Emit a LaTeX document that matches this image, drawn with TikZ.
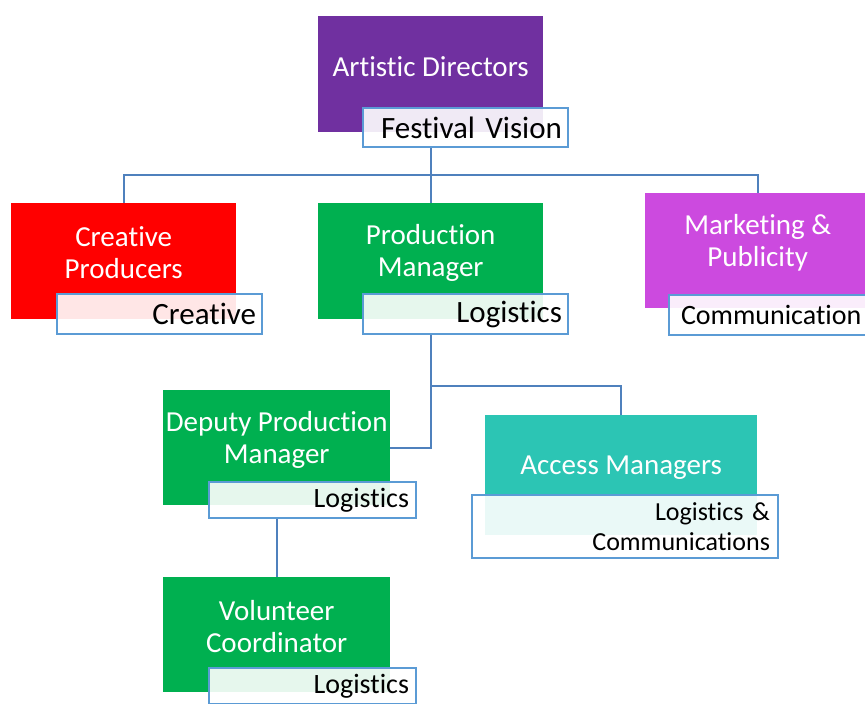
\documentclass[tikz,border=0pt]{standalone}
\usepackage{fontspec}
\setmainfont{Carlito}[Ligatures=CommonOff]
\usetikzlibrary{positioning}
\definecolor{adpurple}{HTML}{7030A0}
\definecolor{cpred}{HTML}{FF0000}
\definecolor{pmgreen}{HTML}{00B050}
\definecolor{mkmagenta}{HTML}{CC4ADF}
\definecolor{amteal}{HTML}{2CC5B4}
\definecolor{tagblue}{HTML}{5B9BD5}
\definecolor{linkblue}{HTML}{4F81BD}
\tikzset{
    %Define style for role boxes
    rolebox/.style={
             rectangle, anchor=north west,
             inner sep=0pt},
    roletext/.style={
             text=white, align=center,
             font=\fontsize{29}{32}\selectfont},
    %Define style for the task tags
    tagbox/.style={
             rectangle, anchor=north west,
             draw=tagblue, line width=2pt,
             fill=white, fill opacity=0.9, text opacity=1,
             align=right, inner xsep=6pt, inner ysep=0pt,
             font=\fontsize{31}{34}\selectfont},
    smalltag/.style={
             tagbox,
             font=\fontsize{28}{30}\selectfont},
    % Define connector style
    link/.style={
            draw=linkblue,
            line width=2pt}
}
\begin{document}
\begin{tikzpicture}[x=1pt, y=-1pt]
 \useasboundingbox[fill=white] (0,0) rectangle (865,704);
 % top level
 \node[rolebox, fill=adpurple, minimum width=225, minimum height=116] (ad) at (318,16) {};
 \node[roletext] (adtext) at ([yshift=8pt]ad.center) {Artistic Directors};
 \node[tagbox, minimum height=39, text width=193pt] (fvtag) at (362,107) {Festival Vision};
 % second level
 \node[rolebox, fill=cpred, minimum width=225, minimum height=116] (cp) at (11,203) {};
 \node[roletext] (cptext) at ([yshift=9pt]cp.center) {Creative\\Producers};
 \node[tagbox, minimum height=40, text width=193pt] (cptag) at (56,293) {Creative};
 \node[rolebox, fill=pmgreen, minimum width=225, minimum height=116] (pm) at (318,203) {};
 \node[roletext] (pmtext) at ([yshift=8pt]pm.center) {Production\\Manager};
 \node[tagbox, minimum height=40, text width=193pt] (pmtag) at (362,293) {Logistics};
 \node[rolebox, fill=mkmagenta, minimum width=225, minimum height=115] (mk) at (645,193) {};
 \node[roletext] (mktext) at ([yshift=8pt]mk.center) {Marketing \&\\Publicity};
 \node[tagbox, minimum height=40, align=left, inner xsep=12pt,
       font=\fontsize{28}{30}\selectfont] (mktag) at (668,294) {Communication};
 % third level
 \node[rolebox, fill=pmgreen, minimum width=227, minimum height=115] (dp) at (163,390) {};
 \node[roletext] (dptext) at ([yshift=8pt]dp.center) {Deputy Production\\Manager};
 \node[smalltag, minimum height=36, text width=193pt, inner xsep=7pt] (dptag) at (208,481) {Logistics};
 \node[rolebox, fill=amteal, minimum width=272, minimum height=120] (am) at (485,415) {};
 \node[roletext] (amtext) at ([yshift=8pt]am.center) {Access Managers};
 \node[tagbox, minimum height=63, text width=290pt, inner xsep=8pt,
       font=\fontsize{26}{30}\selectfont] (amtag) at (471,494) {Logistics \&\\Communications};
 \node[rolebox, fill=pmgreen, minimum width=227, minimum height=115] (vc) at (163,577) {};
 \node[roletext] (vctext) at ([yshift=8pt]vc.center) {Volunteer\\Coordinator};
 \node[smalltag, minimum height=36, text width=193pt, inner xsep=7pt] (vctag) at (208,667) {Logistics};
 % connectors
 \coordinate (tophub) at ([yshift=-27pt]ad.south |- fvtag.south);
 \coordinate (pmhub) at ([yshift=-51pt]pm.south |- pmtag.south);
 \draw[link] (ad.south |- fvtag.south) -- (tophub) -| (cp.north);
 \draw[link] (tophub) -| (mk.north);
 \draw[link] (tophub) -- (pm.north);
 \draw[link] (pm.south |- pmtag.south) |- (dp.east);
 \draw[link] (pmhub) -| (am.north);
 \draw[link] (dp.south |- dptag.south) -- (vc.north);
\end{tikzpicture}
\end{document}
